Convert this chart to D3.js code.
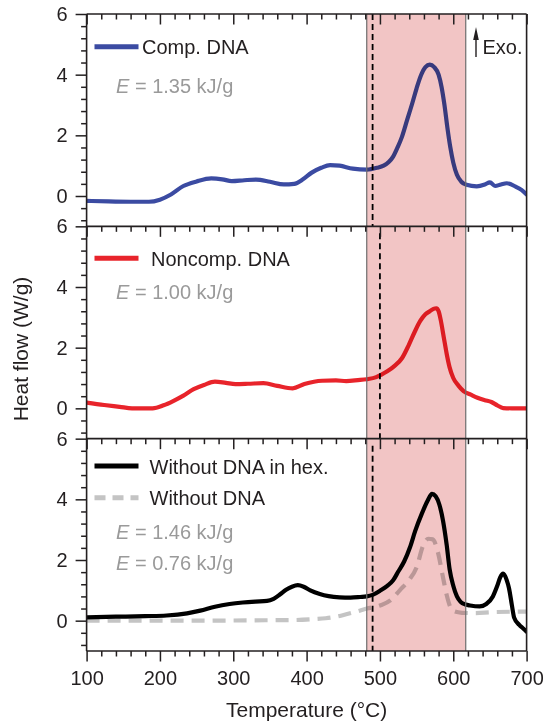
<!DOCTYPE html>
<html>
<head>
<meta charset="utf-8">
<script src="https://cdn.jsdelivr.net/npm/d3@7"></script>
<style>
  html, body { margin: 0; padding: 0; background: #fff; }
  svg { display: block; font-family: "Liberation Sans", Arial, Helvetica, sans-serif; }
</style>
</head>
<body>
<svg id="chart" width="543" height="725"></svg>
<script>
// ---------------- DATA ----------------
const xTickValues = [100, 200, 300, 400, 500, 600, 700];
const yTickValues = [0, 2, 4, 6];

// Comp. DNA (top panel): temperature (°C) and heat flow (W/g)
const compTemp = [100,130,160,185,200,215,232,250,270,285,298,315,331,350,369,383,395,407,420,432,445,463,482,496,505,512,518,524,530,537,544,550,556,562,568,574,580,584,588,592,596,600,605,611,618,632,643,650,657,665,673,685,693,700];
const compFlow = [-0.16,-0.18,-0.19,-0.19,-0.12,0.05,0.33,0.48,0.58,0.55,0.49,0.52,0.54,0.47,0.38,0.40,0.55,0.77,0.93,1.02,1.0,0.9,0.87,0.93,1.0,1.12,1.3,1.6,1.95,2.5,3.05,3.55,3.98,4.25,4.33,4.25,4.0,3.6,3.0,2.25,1.6,1.1,0.7,0.47,0.37,0.32,0.38,0.45,0.33,0.38,0.42,0.31,0.2,0.05];

// Noncomp. DNA (middle panel)
const noncompTemp = [100,124,145,162,190,205,218,232,246,260,275,290,303,320,341,360,381,397,421,440,454,470,482,495,501,510,520,530,539,547,555,562,568,573,577,580,583,587,591,595,600,607,614,624,633,643,652,660,668,680,700];
const noncompFlow = [0.19,0.11,0.05,0.0,0.0,0.1,0.24,0.42,0.63,0.77,0.88,0.84,0.80,0.81,0.83,0.74,0.66,0.80,0.91,0.92,0.90,0.93,0.96,1.03,1.1,1.22,1.4,1.65,2.07,2.5,2.88,3.1,3.2,3.28,3.3,3.2,2.9,2.35,1.8,1.35,1.0,0.75,0.57,0.45,0.35,0.27,0.21,0.1,0.01,0.0,0.0];

// Without DNA in hex. (bottom panel, black)
const hexTemp = [100,140,180,209,237,255,275,295,313,330,346,355,364,372,380,388,396,405,418,430,445,460,473,482,490,501,510,518,525,533,541,548,557,565,571,576,581,586,591,595,600,605,610,617,623,636,645,654,660,664,668,673,676,680,683,690,695,700];
const hexFlow = [0.11,0.13,0.15,0.17,0.24,0.33,0.46,0.55,0.6,0.63,0.65,0.72,0.87,1.02,1.12,1.17,1.12,1.0,0.88,0.81,0.77,0.76,0.78,0.8,0.85,1.0,1.15,1.33,1.62,1.95,2.42,2.95,3.52,3.95,4.18,4.1,3.83,3.3,2.5,1.7,1.15,0.8,0.62,0.53,0.5,0.47,0.55,0.8,1.15,1.43,1.55,1.33,1.07,0.5,0.1,-0.14,-0.25,-0.36];

// Without DNA (bottom panel, grey dashed)
const noDnaTemp = [100,200,265,320,383,410,426,440,454,468,482,500,515,527,540,550,559,566,572,579,586,591,596,602,612,630,652,700];
const noDnaFlow = [0.0,0.0,0.0,0.01,0.02,0.05,0.08,0.13,0.21,0.3,0.4,0.5,0.68,1.0,1.35,1.76,2.48,2.7,2.68,2.26,1.43,0.85,0.45,0.3,0.26,0.25,0.28,0.3];

const bandRange = [482, 617];          // shaded temperature window
const dashTemps = [490, 500, 490];     // dashed marker per panel

const legendLabels = [["Comp. DNA"], ["Noncomp. DNA"], ["Without DNA in hex.", "Without DNA"]];
const energyLabels = [["1.35"], ["1.00"], ["1.46", "0.76"]];

// ---------------- LAYOUT ----------------
const svg = d3.select("#chart");
const plotL = 86.6, plotR = 526.6, plotT = 14, plotB = 651;
const panelH = (plotB - plotT) / 3;
const ink = "#231f20";
const FS = 20;

const x = d3.scaleLinear().domain([100, 700]).range([plotL, plotR]);
const panels = [0, 1, 2].map(i => {
  const t = plotT + i * panelH;
  return { top: t, bot: t + panelH, y: d3.scaleLinear().domain([-1, 6]).range([t + panelH, t]) };
});

const series = [
  [{ t: compTemp, v: compFlow, color: "#3b4ba2", dash: null }],
  [{ t: noncompTemp, v: noncompFlow, color: "#e8242b", dash: null }],
  [{ t: noDnaTemp, v: noDnaFlow, color: "#c4c4c4", dash: "13,8" },
   { t: hexTemp, v: hexFlow, color: "#000000", dash: null }]
];

const defs = svg.append("defs");
panels.forEach((p, i) => {
  defs.append("clipPath").attr("id", "clip" + i)
    .append("rect").attr("x", plotL).attr("y", p.top).attr("width", plotR - plotL).attr("height", panelH);
});

// curves
panels.forEach((p, i) => {
  const line = d3.line().x(d => x(d[0])).y(d => p.y(d[1])).curve(d3.curveMonotoneX);
  const g = svg.append("g").attr("clip-path", `url(#clip${i})`);
  series[i].forEach(s => {
    const pts = s.t.map((t, k) => [t, s.v[k]]);
    g.append("path").attr("d", line(pts))
      .attr("fill", "none").attr("stroke", s.color).attr("stroke-width", 4.2)
      .attr("stroke-linejoin", "round").attr("stroke-linecap", s.dash ? "butt" : "round")
      .attr("stroke-dasharray", s.dash);
  });
});

// shaded band (multiplied over the curves)
svg.append("rect")
  .attr("x", x(bandRange[0])).attr("y", plotT)
  .attr("width", x(bandRange[1]) - x(bandRange[0])).attr("height", plotB - plotT)
  .attr("fill", "rgb(242,197,197)").style("mix-blend-mode", "multiply");
bandRange.forEach(t => {
  svg.append("line").attr("x1", x(t)).attr("x2", x(t)).attr("y1", plotT).attr("y2", plotB)
    .attr("stroke", "#6e6e6e").attr("stroke-width", 1.2);
});

// dashed markers
panels.forEach((p, i) => {
  svg.append("line").attr("x1", x(dashTemps[i])).attr("x2", x(dashTemps[i]))
    .attr("y1", p.top + (i === 0 ? 0 : 7)).attr("y2", p.bot)
    .attr("stroke", "#000").attr("stroke-width", 1.8).attr("stroke-dasharray", "6,4");
});

// axes
const minorX = d3.range(100, 701, 20).filter(v => v % 100 !== 0);
function styleAxis(g) {
  g.select(".domain").remove();
  g.selectAll(".tick line").attr("stroke", ink).attr("stroke-width", 1.5);
  g.selectAll(".tick text").attr("fill", ink).attr("font-size", FS).attr("font-family", "Liberation Sans, Arial, sans-serif");
}
panels.forEach((p, i) => {
  svg.append("g").attr("transform", `translate(0,${p.top})`)
    .call(d3.axisBottom(x).tickValues(xTickValues).tickSize(10.5).tickFormat(""))
    .call(styleAxis);
  svg.append("g").attr("transform", `translate(0,${p.top})`)
    .call(d3.axisBottom(x).tickValues(minorX).tickSize(5.5).tickFormat(""))
    .call(styleAxis);
  svg.append("g").attr("transform", `translate(${plotL},0)`)
    .call(d3.axisLeft(p.y).tickValues(yTickValues).tickSize(11).tickPadding(8).tickFormat(d3.format("d")))
    .call(styleAxis);
  const minorY = d3.range(-0.8, 6, 0.4).map(v => +v.toFixed(1)).filter(v => Math.abs(v % 2) > 1e-6);
  svg.append("g").attr("transform", `translate(${plotL},0)`)
    .call(d3.axisLeft(p.y).tickValues(minorY).tickSize(5.5).tickFormat(""))
    .call(styleAxis);
  svg.append("line").attr("x1", plotL).attr("x2", plotR).attr("y1", p.top).attr("y2", p.top)
    .attr("stroke", ink).attr("stroke-width", 1.6);
});
svg.append("g").attr("transform", `translate(0,${plotB})`)
  .call(d3.axisBottom(x).tickValues(xTickValues).tickSize(10.5).tickPadding(9).tickFormat(d3.format("d")))
  .call(styleAxis);
svg.append("g").attr("transform", `translate(0,${plotB})`)
  .call(d3.axisBottom(x).tickValues(minorX).tickSize(5.5).tickFormat(""))
  .call(styleAxis);
svg.append("line").attr("x1", plotL).attr("x2", plotR).attr("y1", plotB).attr("y2", plotB).attr("stroke", ink).attr("stroke-width", 1.6);
svg.append("line").attr("x1", plotL).attr("x2", plotL).attr("y1", plotT).attr("y2", plotB).attr("stroke", ink).attr("stroke-width", 1.6);
svg.append("line").attr("x1", plotR).attr("x2", plotR).attr("y1", plotT).attr("y2", plotB).attr("stroke", ink).attr("stroke-width", 1.6);

// axis titles
svg.append("text").attr("x", (plotL + plotR) / 2).attr("y", 717).attr("text-anchor", "middle")
  .attr("font-size", 21).attr("fill", ink).text("Temperature (°C)");
svg.append("text").attr("transform", `translate(28,349) rotate(-90)`).attr("text-anchor", "middle")
  .attr("font-size", 21).attr("fill", ink).text("Heat flow (W/g)");

// legends
const legendY = [[46.7], [258.3], [466, 497.7]];
const legendTextX = [[142], [151], [149.5, 149.5]];
panels.forEach((p, i) => {
  series[i].slice().reverse().forEach((s, k) => {
    const ly = legendY[i][k];
    svg.append("line").attr("x1", 94.5).attr("x2", 138.5).attr("y1", ly).attr("y2", ly)
      .attr("stroke", s.color).attr("stroke-width", 5)
      .attr("stroke-dasharray", s.dash ? "11,7" : null);
    svg.append("text").attr("x", legendTextX[i][k]).attr("y", ly + 7.5)
      .attr("font-size", FS).attr("fill", ink).text(legendLabels[i][k]);
  });
});
const energyY = [[93.3], [299.3], [539.3, 570]];
energyLabels.forEach((arr, i) => {
  arr.forEach((val, k) => {
    const t = svg.append("text").attr("x", 116).attr("y", energyY[i][k])
      .attr("font-size", FS).attr("fill", "#9a9a9a");
    t.append("tspan").attr("font-style", "italic").text("E");
    t.append("tspan").text(" = " + val + " kJ/g");
  });
});

// Exo. arrow
svg.append("line").attr("x1", 476).attr("x2", 476).attr("y1", 57).attr("y2", 36)
  .attr("stroke", ink).attr("stroke-width", 1.4);
svg.append("path").attr("d", "M476,27 L473.2,40 L478.8,40 Z").attr("fill", ink);
svg.append("text").attr("x", 482.5).attr("y", 53.5).attr("font-size", FS).attr("fill", ink).text("Exo.");
</script>
</body>
</html>
